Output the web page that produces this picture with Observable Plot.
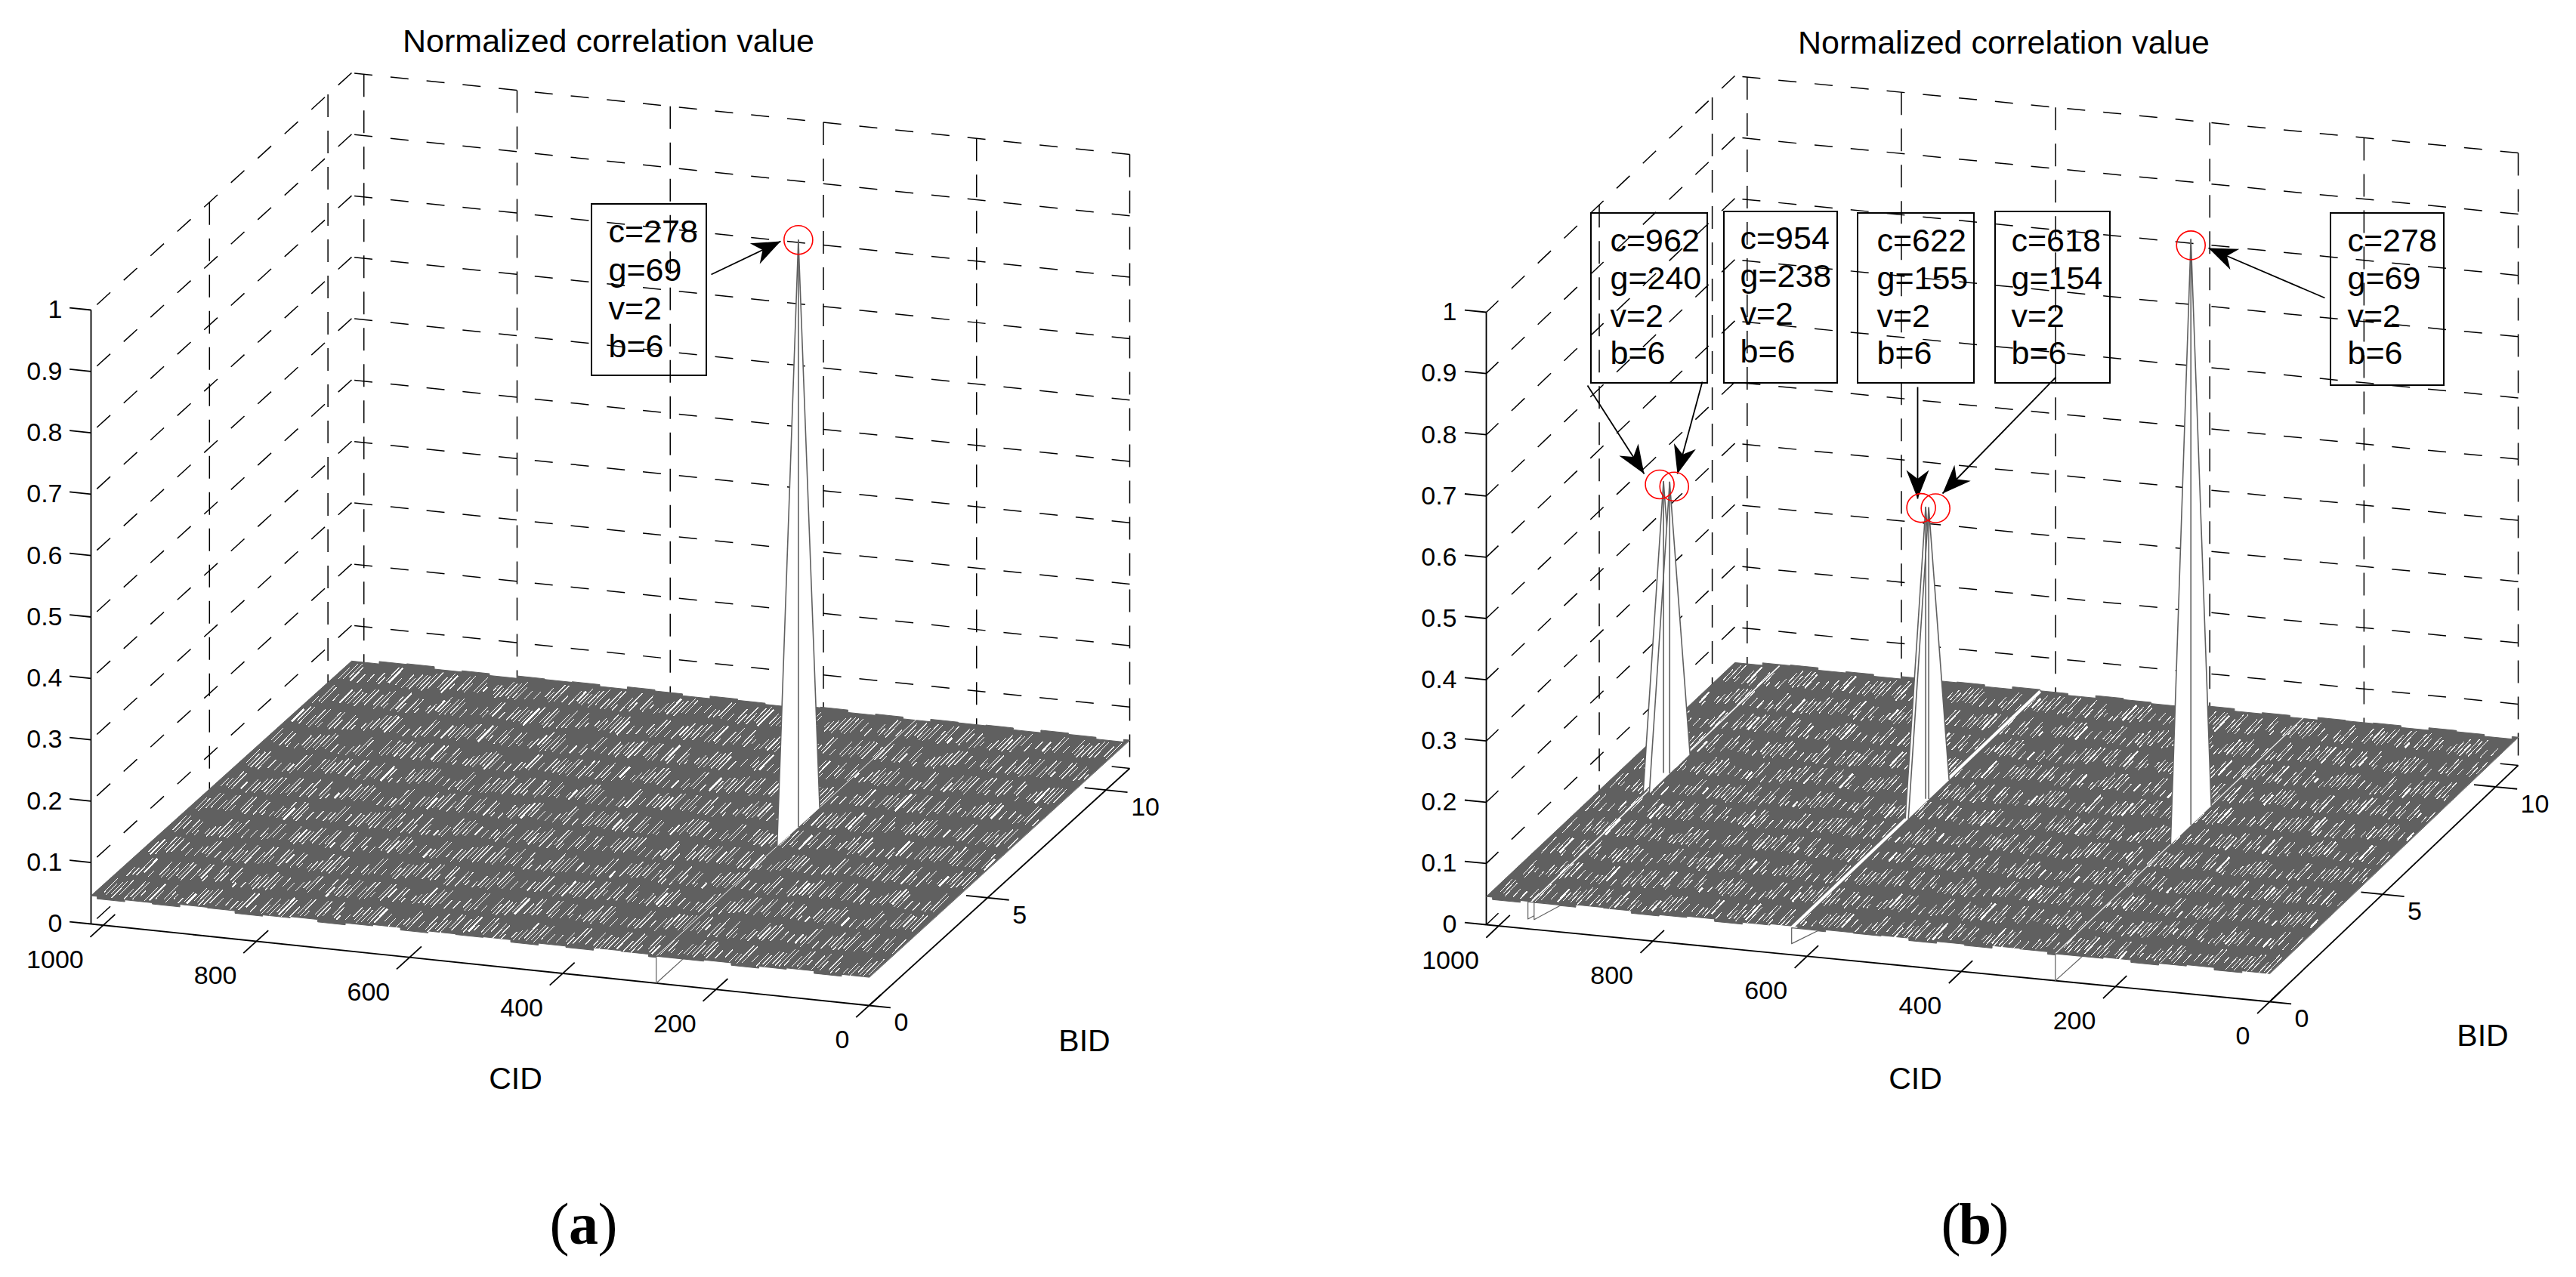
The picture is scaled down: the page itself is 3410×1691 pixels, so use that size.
<!DOCTYPE html>
<html>
<head>
<meta charset="utf-8">
<script src="https://cdn.jsdelivr.net/npm/d3@7"></script>
<script src="https://cdn.jsdelivr.net/npm/@observablehq/plot@0.6"></script>
<style>
html,body{margin:0;padding:0;background:#fff}
#chart{display:flex;width:3410px;height:1691px;overflow:hidden}
svg{display:block;flex:none}
</style>
</head>
<body>
<div id="chart"></div>
<script>
// ---- axis values
const cidTicks = [0, 200, 400, 600, 800, 1000];
const bidTicks = [0, 5, 10];
const valueTicks = [0, 0.1, 0.2, 0.3, 0.4, 0.5, 0.6, 0.7, 0.8, 0.9, 1];
const cidMax = 1016;
const bidMax = 11;
const floorValue = 0.044;

// ---- peaks
const cidPeaksA = [278];
const gPeaksA = [69];
const bidPeaksA = [6];
const valuePeaksA = [1];
const cidPeaksB = [962, 954, 622, 618, 278];
const gPeaksB = [240, 238, 155, 154, 69];
const bidPeaksB = [6, 6, 6, 6, 6];
const valuePeaksB = [0.52, 0.52, 0.52, 0.52, 1];
const vPeak = 2;

// ---- the dips at the front edge of the surface
const dipCidA = [278];
const dipValueA = [0];
const dipCidB = [962, 954, 620, 278];
const dipValueB = [0.016, 0.016, 0.018, 0];
const slitCidA = [278];
const slitCidB = [958, 620, 278];
const slitWidthA = [1];
const slitWidthB = [1.6, 4, 1.2];

// ---- texture of the noisy floor mesh (hand-read, repeating)
const hatchLength = [.62,.45,0,.78,.58,.3,0,.72,.25,.4,.8,.52,0,.35,.7,0,.76,.48,.68,.74,0,.55,.2,.64,0,.43,.82,.38,.7,.5,0,.75,.6,.32,0,.46,.66,.25,.78,0,.41];
const hatchStart = [.08,.16,.05,.12,.22,.04,.14,.09,.19,.11,.06,.17,.24];
const hatchWidth = [1,1,1,1,1,1,1,1,2.4,1,1,1,1,1,1,1,1,1.8,1,1,1,1,1];
const blockShift = [0,.06,-.04,.08,.02,-.05,.05,-.02,.09,-.04,.03,.07,-.05,.01,.06];
const edgeBump = [.002,-.001,.003,.001,-.002,.002,0,-.002,.002,.003,-.001,.001,-.002,.002,.001];

// ---- layout of the two panels (panel pixels)
const panelW = 1705, panelH = 1691;
const panelA = {
  o: [1150, 1331], c: [120, 1223], b: [1495, 1017], zh: 813,
  cid: cidPeaksA, g: gPeaksA, bid: bidPeaksA, val: valuePeaksA,
  dipCid: dipCidA, dipVal: dipValueA, slitCid: slitCidA, slitW: slitWidthA,
  title: [805, 55], cidLabel: [682, 1428], bidLabel: [1435, 1378], tag: [772, 1622], tagText: "a",
  zLabelX: 82,
  circleOffset: [[0, 0]],
  boxes: [[783, 935, 270, 497]], textX: [805], rows: [[307, 358, 409, 459]],
  arrows: [[941, 363, 1033, 319]], seed: 0
};
const panelB = {
  o: [1299, 1326], c: [262, 1224], b: [1628, 1013], zh: 811,
  cid: cidPeaksB, g: gPeaksB, bid: bidPeaksB, val: valuePeaksB,
  dipCid: dipCidB, dipVal: dipValueB, slitCid: slitCidB, slitW: slitWidthB,
  title: [947, 57], cidLabel: [830, 1428], bidLabel: [1581, 1371], tag: [909, 1622], tagText: "b",
  zLabelX: 223,
  circleOffset: [[-5, 4], [6, 6], [-6, 1], [9, 1], [0, 8]],
  boxes: [[401, 555, 282, 507], [577, 727, 280, 507], [754, 908, 282, 507], [936, 1088, 280, 507], [1380, 1530, 282, 510]],
  textX: [426, 598, 779, 957, 1402],
  rows: [[319, 369, 419, 468], [316, 366, 416, 466], [319, 369, 419, 468], [319, 369, 419, 468], [319, 369, 419, 468]],
  arrows: [[396, 510, 471, 627], [548, 505, 515, 627], [833, 512, 833, 660], [1016, 499, 866, 653], [1372, 394, 1218, 328]],
  seed: 17
};

const sans = "Liberation Sans";
const gray = "#606060";

const vbackHead = {
  draw(ctx, l) {
    const w = 15;
    ctx.moveTo(0, -l);
    ctx.lineTo(w, 0);
    ctx.lineTo(0, -l * 0.3);
    ctx.lineTo(-w, 0);
    ctx.closePath();
  }
};

function drawPanel(p) {
  const at = (cid, bid, v) => ({
    x: p.o[0] + cid / cidMax * (p.c[0] - p.o[0]) + bid / bidMax * (p.b[0] - p.o[0]),
    y: p.o[1] + cid / cidMax * (p.c[1] - p.o[1]) + bid / bidMax * (p.b[1] - p.o[1]) - v * p.zh
  });
  const seg = (a, b, extra = {}) => ({x1: a.x, y1: a.y, x2: b.x, y2: b.y, ...extra});
  const xy = {x1: "x1", y1: "y1", x2: "x2", y2: "y2"};

  // grid walls
  const grid = [];
  for (const v of valueTicks) {
    grid.push(seg(at(0, bidMax, v), at(cidMax, bidMax, v)));
    grid.push(seg(at(cidMax, bidMax, v), at(cidMax, 0, v)));
  }
  const gridV = [];
  for (const c of cidTicks) gridV.push(seg(at(c, bidMax, 1), at(c, bidMax, 0)));
  for (const b of bidTicks.slice(1)) gridV.push(seg(at(cidMax, b, 1), at(cidMax, b, 0)));

  // axes + ticks
  const axes = [
    seg(at(cidMax, 0, 0), at(cidMax, 0, 1)),
    seg(at(0, 0, 0), at(cidMax, 0, 0)),
    seg(at(0, 0, 0), at(0, bidMax, 0))
  ];
  const ticks = [];
  for (const c of cidTicks) ticks.push(seg(at(c, -0.55, 0), at(c, 0.5, 0)));
  for (const b of bidTicks) ticks.push(seg(at(b === 0 ? 0 : 28, b, 0), at(-28, b, 0)));
  for (const v of valueTicks) ticks.push(seg(at(cidMax, 0, v), at(cidMax + 28, 0, v)));

  // floor, with the stepped front and back edges of the mesh
  const floor = [];
  const step = 36;
  for (let k = 0, c = 0; c < cidMax; k++, c += step) {
    const v = floorValue + edgeBump[k % edgeBump.length];
    floor.push(at(c, 0, v), at(Math.min(c + step, cidMax), 0, v));
  }
  for (let k = 7, c = cidMax; c > 0; k++, c -= step) {
    const v = floorValue + edgeBump[k % edgeBump.length];
    floor.push(at(c, bidMax, v), at(Math.max(c - step, 0), bidMax, v));
  }

  // floor texture
  const hatch = [];
  let n = p.seed;
  for (let row = 0; row < bidMax; row++) {
    for (let c = 5; c < cidMax - 5; c += 5.3) {
      n++;
      const len = hatchLength[(n * 7 + row * 11) % hatchLength.length];
      if (!len) continue;
      const shift = blockShift[(Math.floor(c / 62) + row * 4 + p.seed) % blockShift.length];
      const s = Math.max(row + 0.02, row + hatchStart[n % hatchStart.length] + shift);
      const e = Math.min(row + 0.88, s + len);
      hatch.push(seg(at(c, s, floorValue), at(c + (e - s) * 3, e, floorValue), {w: hatchWidth[n % hatchWidth.length]}));
    }
  }

  const slits = p.slitCid.map((c, i) => seg(at(c, 0, floorValue), at(c, bidMax, floorValue), {w: p.slitW[i]}));

  const dips = [];
  p.dipCid.forEach((c, i) => {
    const id = "dip" + i;
    dips.push({...at(c, 0, floorValue), id});
    dips.push({...at(c, 0, p.dipVal[i]), id});
    dips.push({...at(c - 35, 0, floorValue), id});
  });

  const spikes = [], spikeLines = [];
  p.cid.forEach((c, i) => {
    const id = "s" + i, b = p.bid[i], v = p.val[i];
    spikes.push({...at(c, b - 0.9, floorValue), id});
    spikes.push({...at(c, b, v), id});
    spikes.push({...at(c, b + 0.9, floorValue), id});
    spikeLines.push(seg(at(c, b, v), at(c, b, floorValue)));
  });

  const tipRot = (a) => Math.atan2(a[2] - a[0], -(a[3] - a[1])) * 180 / Math.PI;

  const boxText = [];
  p.cid.forEach((c, i) => {
    [`c=${c}`, `g=${p.g[i]}`, `v=${vPeak}`, `b=${p.bid[i]}`].forEach((t, k) => {
      boxText.push({t, x: p.textX[i], y: p.rows[i][k]});
    });
  });

  const circles = p.cid.map((c, i) => {
    const q = at(c, p.bid[i], p.val[i]);
    return {x: q.x + p.circleOffset[i][0], y: q.y + p.circleOffset[i][1]};
  });

  const tickLabels = cidTicks.map(c => ({...at(c, 0, 0), t: String(c)}));
  const bidLabels = bidTicks.map(b => ({...at(0, b, 0), t: String(b)}));
  const valueLabels = valueTicks.map(v => ({y: at(cidMax, 0, v).y, x: p.zLabelX, t: String(v)}));

  return Plot.plot({
    width: panelW,
    height: panelH,
    margin: 0,
    x: {type: "linear", domain: [0, panelW], range: [0, panelW], axis: null},
    y: {type: "linear", domain: [0, panelH], range: [0, panelH], axis: null},
    style: {fontFamily: sans, background: "#fff", color: "#000"},
    marks: [
      Plot.link(grid, {...xy, stroke: "#000", strokeWidth: 1.5, strokeDasharray: "24 24"}),
      Plot.link(gridV, {...xy, stroke: "#000", strokeWidth: 1.5, strokeDasharray: "30 18"}),
      Plot.link(axes, {...xy, stroke: "#000", strokeWidth: 1.8}),
      Plot.link(ticks, {...xy, stroke: "#000", strokeWidth: 1.8}),

      Plot.line(floor, {x: "x", y: "y", fill: gray, stroke: gray, strokeWidth: 1, curve: "linear-closed"}),
      Plot.link(hatch, {...xy, stroke: "#fff", strokeWidth: "w", shapeRendering: "crispEdges"}),
      Plot.link(slits, {...xy, stroke: "#fff", strokeWidth: "w"}),
      Plot.line(dips, {x: "x", y: "y", z: "id", fill: "#fff", stroke: gray, strokeWidth: 1.2, curve: "linear-closed"}),

      Plot.line(spikes, {x: "x", y: "y", z: "id", fill: "#fff", stroke: gray, strokeWidth: 1.6, curve: "linear"}),
      Plot.link(spikeLines, {...xy, stroke: gray, strokeWidth: 1.6}),

      Plot.rect(p.boxes, {x1: d => d[0], x2: d => d[1], y1: d => d[2], y2: d => d[3], fill: "none", stroke: "#000", strokeWidth: 2}),
      Plot.text(boxText, {x: "x", y: "y", text: "t", textAnchor: "start", lineAnchor: "middle", fontSize: 43, fill: "#000"}),

      Plot.link(p.arrows, {x1: d => d[0], y1: d => d[1], x2: d => d[2], y2: d => d[3], stroke: "#000", strokeWidth: 1.8}),
      Plot.vector(p.arrows, {x: d => d[2], y: d => d[3], rotate: tipRot, length: 38, anchor: "end", shape: vbackHead, fill: "#000", stroke: "none"}),
      Plot.dot(circles, {x: "x", y: "y", r: 19, fill: "none", stroke: "#f00", strokeWidth: 1.6}),

      Plot.text(valueLabels, {x: "x", y: "y", text: "t", textAnchor: "end", lineAnchor: "middle", fontSize: 34, fill: "#000"}),
      Plot.text(tickLabels, {x: "x", y: "y", text: "t", textAnchor: "end", lineAnchor: "middle", dx: -26, dy: 46, fontSize: 34, fill: "#000"}),
      Plot.text(bidLabels, {x: "x", y: "y", text: "t", textAnchor: "start", lineAnchor: "middle", dx: 33, dy: 23, fontSize: 34, fill: "#000"}),

      Plot.text(["Normalized correlation value"], {x: p.title[0], y: p.title[1], text: d => d, fontSize: 43, lineAnchor: "middle", fill: "#000"}),
      Plot.text(["CID"], {x: p.cidLabel[0], y: p.cidLabel[1], text: d => d, fontSize: 41, lineAnchor: "middle", fill: "#000"}),
      Plot.text(["BID"], {x: p.bidLabel[0], y: p.bidLabel[1], text: d => d, fontSize: 41, lineAnchor: "middle", fill: "#000"}),

      Plot.text(["("], {x: p.tag[0], y: p.tag[1], text: d => d, dx: -19, textAnchor: "end", lineAnchor: "middle", fontSize: 78, fontFamily: "Liberation Serif", fill: "#000"}),
      Plot.text([p.tagText], {x: p.tag[0], y: p.tag[1], text: d => d, textAnchor: "middle", lineAnchor: "middle", fontSize: 78, fontWeight: "bold", fontFamily: "Liberation Serif", fill: "#000"}),
      Plot.text([")"], {x: p.tag[0], y: p.tag[1], text: d => d, dx: 19, textAnchor: "start", lineAnchor: "middle", fontSize: 78, fontFamily: "Liberation Serif", fill: "#000"})
    ]
  });
}

const host = document.getElementById("chart");
host.append(drawPanel(panelA), drawPanel(panelB));
</script>
</body>
</html>
